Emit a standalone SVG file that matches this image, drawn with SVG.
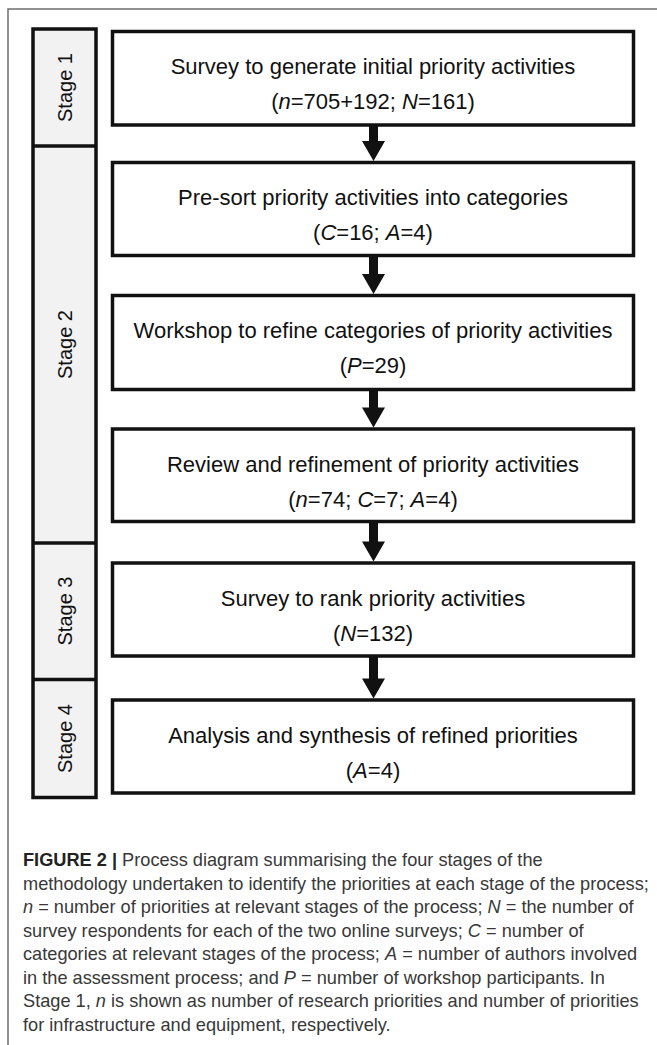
<svg xmlns="http://www.w3.org/2000/svg" width="657" height="1045" viewBox="0 0 657 1045">
<style>
.frame{fill:none;stroke:#6e6e6e;stroke-width:1.5}
.stage{fill:#f2f2f2;stroke:#111;stroke-width:3.5}
.div{stroke:#111;stroke-width:3.5}
.box{fill:#fff;stroke:#111;stroke-width:3.5}
.st{font-family:"Liberation Sans",Arial,sans-serif;font-size:20px;fill:#111;text-anchor:middle}
.bt{font-family:"Liberation Sans",Arial,sans-serif;font-size:22px;fill:#111;text-anchor:middle}
.cap{font-family:"Liberation Sans",Arial,sans-serif;font-size:18.2px;fill:#383838}
.arrow{fill:#111}
</style>
<path class="frame" d="M8,1045 V9 H657"/>
<g id="stages">
<rect class="stage" x="33" y="29" width="63" height="768.5"/>
<line class="div" x1="33" y1="146" x2="96" y2="146"/>
<line class="div" x1="33" y1="543" x2="96" y2="543"/>
<line class="div" x1="33" y1="679.5" x2="96" y2="679.5"/>
<text class="st" transform="translate(71.5,87.5) rotate(-90)">Stage 1</text>
<text class="st" transform="translate(71.5,344.5) rotate(-90)">Stage 2</text>
<text class="st" transform="translate(71.5,611) rotate(-90)">Stage 3</text>
<text class="st" transform="translate(71.5,738.5) rotate(-90)">Stage 4</text>
</g>
<g id="connectors">
<path class="arrow" d="M369,125 H378 V141 H385 L373.5,161 L362,141 H369 Z"/>
<path class="arrow" d="M369,255.5 H378 V274 H385 L373.5,294 L362,274 H369 Z"/>
<path class="arrow" d="M369,389.5 H378 V407.5 H385 L373.5,427.5 L362,407.5 H369 Z"/>
<path class="arrow" d="M369,521.5 H378 V541.5 H385 L373.5,561.5 L362,541.5 H369 Z"/>
<path class="arrow" d="M369,656 H378 V678.5 H385 L373.5,698.5 L362,678.5 H369 Z"/>
</g>
<g id="node1">
<rect class="box" x="112.5" y="31.5" width="521" height="93.5"/>
<text class="bt" x="373" y="74">Survey to generate initial priority activities</text>
<text class="bt" x="373" y="109">(<tspan font-style="italic">n</tspan>=705+192; <tspan font-style="italic">N</tspan>=161)</text>
</g>
<g id="node2">
<rect class="box" x="112.5" y="162.5" width="521" height="93"/>
<text class="bt" x="373" y="205">Pre-sort priority activities into categories</text>
<text class="bt" x="373" y="240">(<tspan font-style="italic">C</tspan>=16; <tspan font-style="italic">A</tspan>=4)</text>
</g>
<g id="node3">
<rect class="box" x="112.5" y="295.5" width="521" height="94"/>
<text class="bt" x="373" y="338">Workshop to refine categories of priority activities</text>
<text class="bt" x="373" y="373">(<tspan font-style="italic">P</tspan>=29)</text>
</g>
<g id="node4">
<rect class="box" x="112.5" y="429" width="521" height="92.5"/>
<text class="bt" x="373" y="471.5">Review and refinement of priority activities</text>
<text class="bt" x="373" y="506.5">(<tspan font-style="italic">n</tspan>=74; <tspan font-style="italic">C</tspan>=7; <tspan font-style="italic">A</tspan>=4)</text>
</g>
<g id="node5">
<rect class="box" x="112.5" y="563" width="521" height="93"/>
<text class="bt" x="373" y="605.5">Survey to rank priority activities</text>
<text class="bt" x="373" y="640.5">(<tspan font-style="italic">N</tspan>=132)</text>
</g>
<g id="node6">
<rect class="box" x="112.5" y="700" width="521" height="93"/>
<text class="bt" x="373" y="742.5">Analysis and synthesis of refined priorities</text>
<text class="bt" x="373" y="777.5">(<tspan font-style="italic">A</tspan>=4)</text>
</g>
<g id="caption">
<text class="cap" x="23" y="866"><tspan font-weight="bold" fill="#222">FIGURE 2 |</tspan> Process diagram summarising the four stages of the</text>
<text class="cap" x="23" y="889.5">methodology undertaken to identify the priorities at each stage of the process;</text>
<text class="cap" x="23" y="913"><tspan font-style="italic">n</tspan> = number of priorities at relevant stages of the process; <tspan font-style="italic">N</tspan> = the number of</text>
<text class="cap" x="23" y="936.5">survey respondents for each of the two online surveys; <tspan font-style="italic">C</tspan> = number of</text>
<text class="cap" x="23" y="960">categories at relevant stages of the process; <tspan font-style="italic">A</tspan> = number of authors involved</text>
<text class="cap" x="23" y="983.5">in the assessment process; and <tspan font-style="italic">P</tspan> = number of workshop participants. In</text>
<text class="cap" x="23" y="1007">Stage 1, <tspan font-style="italic">n</tspan> is shown as number of research priorities and number of priorities</text>
<text class="cap" x="23" y="1030.5">for infrastructure and equipment, respectively.</text>
</g>
</svg>
